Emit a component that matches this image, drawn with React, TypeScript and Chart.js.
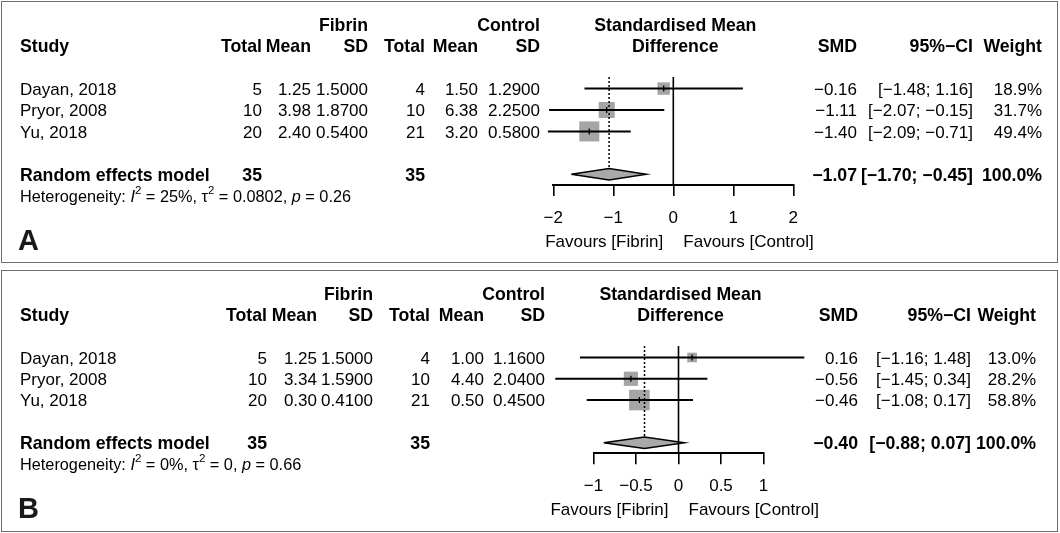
import React, { useEffect, useRef } from "react";
import { Chart, registerables } from "chart.js";

Chart.register(...registerables);

const FONT = '"Liberation Sans", Arial, Helvetica, sans-serif';
const MINUS = "\u2212";

// ---------------- shared labels ----------------
const studies = ["Dayan, 2018", "Pryor, 2008", "Yu, 2018"];
const pooledLabel = "Random effects model";
const groupLabels = ["Fibrin", "Control"];

// ---------------- Panel A ----------------
const aFibrinTotal = [5, 10, 20];
const aFibrinMean = [1.25, 3.98, 2.4];
const aFibrinSD = [1.5, 1.87, 0.54];
const aControlTotal = [4, 10, 21];
const aControlMean = [1.5, 6.38, 3.2];
const aControlSD = [1.29, 2.25, 0.58];
const aSMD = [-0.16, -1.11, -1.4];
const aLower = [-1.48, -2.07, -2.09];
const aUpper = [1.16, -0.15, -0.71];
const aWeight = [18.9, 31.7, 49.4];
const aPooled = [-1.07, -1.7, -0.45]; // estimate, lower, upper
const aTotals = [35, 35];
const aHet = ["25%", "0.0802", "0.26"]; // I2, tau2, p
const aTicks = [-2, -1, 0, 1, 2];

// ---------------- Panel B ----------------
const bFibrinTotal = [5, 10, 20];
const bFibrinMean = [1.25, 3.34, 0.3];
const bFibrinSD = [1.5, 1.59, 0.41];
const bControlTotal = [4, 10, 21];
const bControlMean = [1.0, 4.4, 0.5];
const bControlSD = [1.16, 2.04, 0.45];
const bSMD = [0.16, -0.56, -0.46];
const bLower = [-1.16, -1.45, -1.08];
const bUpper = [1.48, 0.34, 0.17];
const bWeight = [13.0, 28.2, 58.8];
const bPooled = [-0.4, -0.88, 0.07];
const bTotals = [35, 35];
const bHet = ["0%", "0", "0.66"];
const bTicks = [-1, -0.5, 0, 0.5, 1];

// ---------------- row layout (in y-scale units) ----------------
const HEAD1 = -2;
const HEAD2 = -1;
const POOLED_ROW = 5;
const HET_ROW = 6;
const FAV_ROW = 8.1;
const Y_MIN = 0.46;
const Y_MAX = 5.5;
const DIAMOND_H = 0.27;

const SQUARE_GRAY = "#a5a5a5";
const DIAMOND_GRAY = "#a9a9a9";
const BODY = 17;
const BOLD = 17.7;

const fmt = (v: number, d: number) => v.toFixed(d).replace("-", MINUS);

type Spec = {
  letter: string;
  fT: number[]; fM: number[]; fS: number[];
  cT: number[]; cM: number[]; cS: number[];
  smd: number[]; lo: number[]; hi: number[]; w: number[];
  pooled: number[]; totals: number[]; het: string[]; ticks: number[];
  canvasTop: number; canvasH: number;
  pad: { left: number; right: number; top: number; bottom: number };
  boxK: number;
  cols: { study: number; t: number; m: number; s: number; ct: number; cm: number; cs: number; smd: number; ci: number; w: number };
};

const specA: Spec = {
  letter: "A",
  fT: aFibrinTotal, fM: aFibrinMean, fS: aFibrinSD,
  cT: aControlTotal, cM: aControlMean, cS: aControlSD,
  smd: aSMD, lo: aLower, hi: aUpper, w: aWeight,
  pooled: aPooled, totals: aTotals, het: aHet, ticks: aTicks,
  canvasTop: 0, canvasH: 266,
  pad: { left: 553.3, right: 266.7, top: 77, bottom: 21 },
  boxK: 2.85,
  cols: { study: 20, t: 262, m: 311, s: 368, ct: 425, cm: 478, cs: 540, smd: 857, ci: 973, w: 1042 },
};

const specB: Spec = {
  letter: "B",
  fT: bFibrinTotal, fM: bFibrinMean, fS: bFibrinSD,
  cT: bControlTotal, cM: bControlMean, cS: bControlSD,
  smd: bSMD, lo: bLower, hi: bUpper, w: bWeight,
  pooled: bPooled, totals: bTotals, het: bHet, ticks: bTicks,
  canvasTop: 268, canvasH: 265,
  pad: { left: 593.5, right: 296.5, top: 78, bottom: 19.7 },
  boxK: 2.68,
  cols: { study: 20, t: 267, m: 317, s: 373, ct: 430, cm: 484, cs: 545, smd: 858, ci: 971, w: 1036 },
};

function tablePlugin(s: Spec) {
  return {
    id: "forestTable" + s.letter,
    afterDraw(chart: any) {
      const ctx: CanvasRenderingContext2D = chart.ctx;
      const ys = chart.scales.y;
      const xs = chart.scales.x;
      const c = s.cols;
      ctx.save();
      ctx.fillStyle = "#000";
      ctx.textBaseline = "middle";
      const txt = (t: string, x: number, row: number, align: CanvasTextAlign, bold = false, size?: number) => {
        const sz = size ?? (bold ? BOLD : BODY);
        ctx.font = `${bold ? "bold " : ""}${sz}px ${FONT}`;
        ctx.textAlign = align;
        ctx.fillText(t, x, ys.getPixelForValue(row) + 1.5);
      };
      const x0 = xs.getPixelForValue(0);
      // headers
      txt(groupLabels[0], c.s, HEAD1, "right", true);
      txt(groupLabels[1], c.cs, HEAD1, "right", true);
      txt("Standardised Mean", x0 + 2, HEAD1, "center", true);
      txt("Study", c.study, HEAD2, "left", true);
      txt("Total", c.t, HEAD2, "right", true);
      txt("Mean", c.m, HEAD2, "right", true);
      txt("SD", c.s, HEAD2, "right", true);
      txt("Total", c.ct, HEAD2, "right", true);
      txt("Mean", c.cm, HEAD2, "right", true);
      txt("SD", c.cs, HEAD2, "right", true);
      txt("Difference", x0 + 2, HEAD2, "center", true);
      txt("SMD", c.smd, HEAD2, "right", true);
      txt("95%" + MINUS + "CI", c.ci, HEAD2, "right", true);
      txt("Weight", c.w, HEAD2, "right", true);
      // study rows
      studies.forEach((name, i) => {
        const r = i + 1;
        txt(name, c.study, r, "left");
        txt(String(s.fT[i]), c.t, r, "right");
        txt(s.fM[i].toFixed(2), c.m, r, "right");
        txt(s.fS[i].toFixed(4), c.s, r, "right");
        txt(String(s.cT[i]), c.ct, r, "right");
        txt(s.cM[i].toFixed(2), c.cm, r, "right");
        txt(s.cS[i].toFixed(4), c.cs, r, "right");
        txt(fmt(s.smd[i], 2), c.smd, r, "right");
        txt(`[${fmt(s.lo[i], 2)}; ${fmt(s.hi[i], 2)}]`, c.ci, r, "right");
        txt(s.w[i].toFixed(1) + "%", c.w, r, "right");
      });
      // pooled row
      txt(pooledLabel, c.study, POOLED_ROW, "left", true);
      txt(String(s.totals[0]), c.t, POOLED_ROW, "right", true);
      txt(String(s.totals[1]), c.ct, POOLED_ROW, "right", true);
      txt(fmt(s.pooled[0], 2), c.smd, POOLED_ROW, "right", true);
      txt(`[${fmt(s.pooled[1], 2)}; ${fmt(s.pooled[2], 2)}]`, c.ci, POOLED_ROW, "right", true);
      txt("100.0%", c.w, POOLED_ROW, "right", true);
      // heterogeneity
      const hy = ys.getPixelForValue(HET_ROW) + 1.5;
      const parts: [string, string][] = [
        ["Heterogeneity: ", "n"], ["I", "i"], ["2", "sup"], [" = " + s.het[0] + ", ", "n"],
        ["\u03C4", "n"], ["2", "sup"], [" = " + s.het[1] + ", ", "n"],
        ["p", "i"], [" = " + s.het[2], "n"],
      ];
      let hx = c.study;
      ctx.textAlign = "left";
      for (const [t, st] of parts) {
        const size = st === "sup" ? 11.5 : 16.3;
        ctx.font = `${st === "i" ? "italic " : ""}${size}px ${FONT}`;
        ctx.fillText(t, hx, st === "sup" ? hy - 6.5 : hy);
        hx += ctx.measureText(t).width;
      }
      // favours labels
      txt("Favours [Fibrin]", x0 - 10, FAV_ROW, "right");
      txt("Favours [Control]", x0 + 10, FAV_ROW, "left");
      // panel letter
      ctx.fillStyle = "#1a1a1a";
      txt(s.letter, 18, FAV_ROW, "left", true, 29);
      ctx.restore();
    },
  };
}

function makeConfig(s: Spec): any {
  const datasets: any[] = [];
  const line = (data: any[], extra: any = {}) => ({
    data,
    showLine: true,
    borderColor: "#000",
    borderWidth: 2,
    pointRadius: 0,
    pointHoverRadius: 0,
    clip: false,
    tension: 0,
    ...extra,
  });
  // null line at 0
  datasets.push(line([{ x: 0, y: Y_MIN }, { x: 0, y: Y_MAX }], { borderWidth: 1.6, order: 0 }));
  // point estimate ticks
  datasets.push({
    data: s.smd.map((v, i) => ({ x: v, y: i + 1 })),
    pointStyle: "line",
    pointRotation: 90,
    pointRadius: 3,
    pointHoverRadius: 3,
    pointBorderColor: "#000",
    pointBorderWidth: 1.3,
    clip: false,
    order: 1,
  });
  // confidence intervals
  s.lo.forEach((lo, i) => {
    datasets.push(line([{ x: lo, y: i + 1 }, { x: s.hi[i], y: i + 1 }], { borderWidth: 2, order: 2 }));
  });
  // dotted pooled line
  datasets.push(
    line([{ x: s.pooled[0], y: Y_MIN }, { x: s.pooled[0], y: POOLED_ROW - DIAMOND_H }], {
      borderWidth: 1.5,
      borderDash: [2, 2],
      order: 3,
    })
  );
  // diamond
  const [est, plo, phi] = s.pooled;
  datasets.push(
    line(
      [
        { x: plo, y: POOLED_ROW },
        { x: est, y: POOLED_ROW - DIAMOND_H },
        { x: phi, y: POOLED_ROW },
        { x: est, y: POOLED_ROW + DIAMOND_H },
        { x: plo, y: POOLED_ROW },
      ],
      { fill: "shape", backgroundColor: DIAMOND_GRAY, borderWidth: 1.5, order: 4 }
    )
  );
  // squares
  datasets.push({
    data: s.smd.map((v, i) => ({ x: v, y: i + 1 })),
    pointStyle: "rect",
    pointRadius: s.w.map((w) => (s.boxK * Math.sqrt(w)) / Math.SQRT2),
    pointHoverRadius: s.w.map((w) => (s.boxK * Math.sqrt(w)) / Math.SQRT2),
    pointBackgroundColor: SQUARE_GRAY,
    pointBorderColor: SQUARE_GRAY,
    pointBorderWidth: 0,
    clip: false,
    order: 5,
  });

  return {
    type: "scatter",
    data: { datasets },
    options: {
      responsive: false,
      animation: false,
      events: [],
      layout: { padding: s.pad },
      plugins: {
        legend: { display: false },
        tooltip: { enabled: false },
      },
      scales: {
        x: {
          type: "linear",
          position: "bottom",
          min: s.ticks[0],
          max: s.ticks[s.ticks.length - 1],
          afterFit: (sc: any) => {
            sc.height = 60;
          },
          afterBuildTicks: (sc: any) => {
            sc.ticks = s.ticks.map((v) => ({ value: v }));
          },
          grid: {
            display: true,
            drawOnChartArea: false,
            drawTicks: true,
            tickLength: 11,
            color: "#000",
            lineWidth: 1.6,
          },
          border: { display: true, color: "#000", width: 2 },
          ticks: {
            color: "#000",
            font: { family: FONT, size: 17 },
            padding: 12,
            maxRotation: 0,
            autoSkip: false,
            callback: (v: any) => String(v).replace("-", MINUS),
          },
        },
        y: { type: "linear", display: false, reverse: true, min: Y_MIN, max: Y_MAX },
      },
    },
    plugins: [tablePlugin(s)],
  };
}

function ForestPanel({ spec }: { spec: Spec }) {
  const ref = useRef<HTMLCanvasElement>(null);
  useEffect(() => {
    const chart = new Chart(ref.current as HTMLCanvasElement, makeConfig(spec));
    return () => chart.destroy();
  }, [spec]);
  return (
    <canvas
      ref={ref}
      width={1060}
      height={spec.canvasH}
      style={{ position: "absolute", left: 0, top: spec.canvasTop, display: "block" }}
    />
  );
}

export default function App() {
  const border = "1.5px solid #6f6f6f";
  return (
    <div style={{ position: "absolute", left: 0, top: 0, width: 1060, height: 533, background: "#fff", overflow: "hidden" }}>
      <ForestPanel spec={specA} />
      <ForestPanel spec={specB} />
      <div style={{ position: "absolute", left: 1, top: 1, width: 1057, height: 262, border, boxSizing: "border-box", pointerEvents: "none" }} />
      <div style={{ position: "absolute", left: 1, top: 270, width: 1057, height: 262, border, boxSizing: "border-box", pointerEvents: "none" }} />
    </div>
  );
}
